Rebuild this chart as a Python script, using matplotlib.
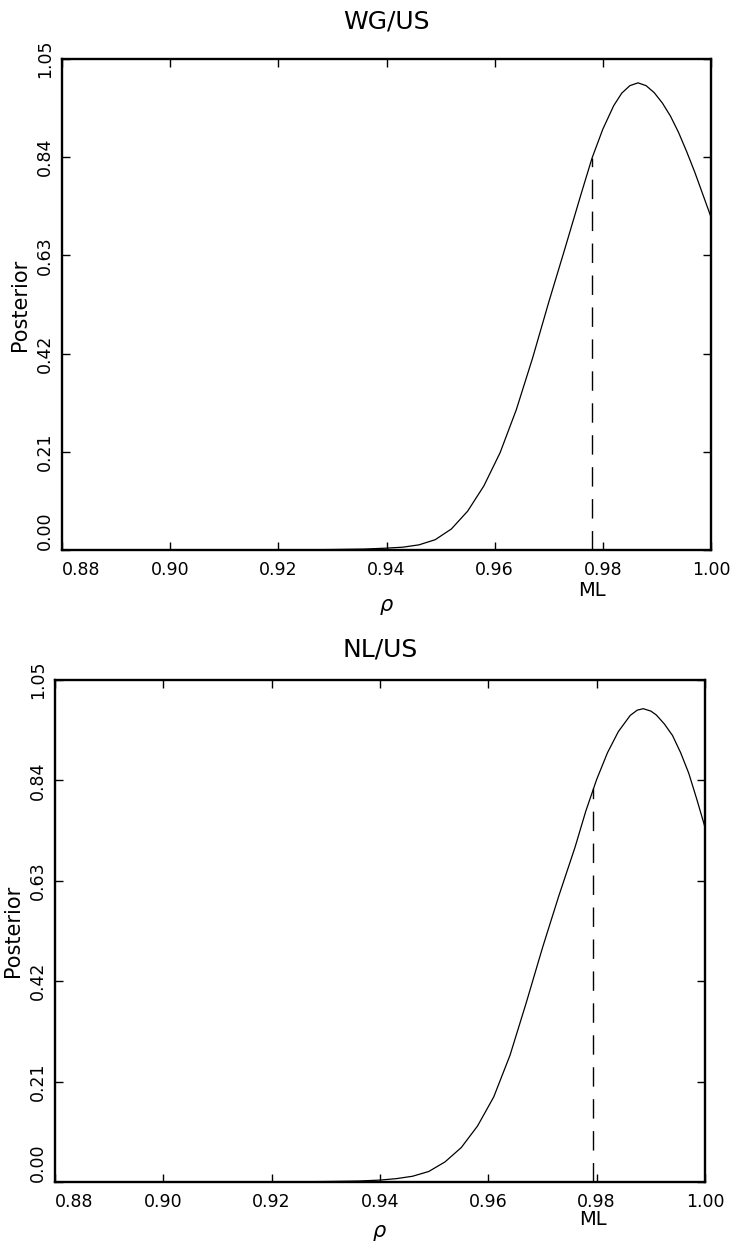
import matplotlib
matplotlib.use("Agg")
import matplotlib.pyplot as plt

# posterior of rho
wg_rho = [0.880, 0.900, 0.920, 0.930, 0.936, 0.940, 0.943, 0.946, 0.949, 0.952,
          0.955, 0.958, 0.961, 0.964, 0.967, 0.970, 0.973, 0.976, 0.978, 0.980,
          0.982, 0.9835, 0.985, 0.9865, 0.988, 0.9895, 0.991, 0.9925, 0.994,
          0.9955, 0.997, 0.9985, 1.000]
wg_post = [0.000, 0.000, 0.000, 0.001, 0.002, 0.004, 0.006, 0.011, 0.022, 0.045,
           0.083, 0.137, 0.208, 0.300, 0.410, 0.530, 0.645, 0.762, 0.838, 0.900,
           0.950, 0.977, 0.993, 0.999, 0.993, 0.978, 0.956, 0.928, 0.893,
           0.852, 0.808, 0.760, 0.712]
wg_ml = 0.978
wg_ml_top = 0.838

nl_rho = [0.880, 0.900, 0.920, 0.930, 0.936, 0.940, 0.943, 0.946, 0.949, 0.952,
          0.955, 0.958, 0.961, 0.964, 0.967, 0.970, 0.973, 0.976, 0.978, 0.980,
          0.982, 0.984, 0.9862, 0.9875, 0.9886, 0.990, 0.991, 0.9925, 0.994,
          0.9955, 0.997, 0.9985, 1.000]
nl_post = [0.000, 0.000, 0.000, 0.001, 0.002, 0.004, 0.007, 0.012, 0.022, 0.042,
           0.072, 0.117, 0.178, 0.265, 0.375, 0.490, 0.598, 0.700, 0.776, 0.842,
           0.898, 0.942, 0.976, 0.987, 0.990, 0.985, 0.977, 0.958, 0.934,
           0.898, 0.855, 0.800, 0.742]
nl_ml = 0.9793
nl_ml_top = 0.825

xticks = [0.88, 0.90, 0.92, 0.94, 0.96, 0.98, 1.00]
yticks = [0.00, 0.21, 0.42, 0.63, 0.84, 1.05]

W, H = 737, 1243
fig = plt.figure(figsize=(W / 100, H / 100), dpi=100)


def panel(rect, title, rho, post, ml, ml_top, title_pad, ml_y, rho_y):
    ax = fig.add_axes(rect)
    ax.plot(rho, post, color="black", lw=0.9)
    ax.plot([ml, ml], [0, ml_top], color="black", lw=1.0, dashes=(14, 9))
    ax.set_xlim(0.88, 1.00)
    ax.set_ylim(0.0, 1.05)
    ax.set_xticks(xticks)
    ax.set_xticklabels(["%.2f" % v for v in xticks])
    ax.set_yticks(yticks)
    ax.set_yticklabels(["%.2f" % v for v in yticks], rotation=90, va="center")
    ax.tick_params(direction="in", length=6, width=1, top=True, right=True,
                   labelsize=12.5, colors="black")
    ax.tick_params(axis="x", pad=8)
    ax.tick_params(axis="y", pad=6)
    ax.get_xticklabels()[0].set_ha("left")
    ax.get_yticklabels()[0].set_va("bottom")
    for s in ax.spines.values():
        s.set_linewidth(1.7)
    ax.set_title(title, fontsize=18, pad=title_pad)
    ax.set_ylabel("Posterior", fontsize=15, labelpad=4)
    ax.text(0.5, rho_y, r"$\rho$", transform=ax.transAxes, ha="center",
            va="center", fontsize=15)
    ax.text(ml, ml_y, "ML", transform=ax.get_xaxis_transform(), ha="center",
            va="center", fontsize=14)
    return ax


panel([62 / W, 1 - 550 / H, 649 / W, 491 / H], "WG/US",
      wg_rho, wg_post, wg_ml, wg_ml_top, 22, -0.082, -0.116)
panel([55 / W, 1 - 1182 / H, 650 / W, 502 / H], "NL/US",
      nl_rho, nl_post, nl_ml, nl_ml_top, 17, -0.074, -0.102)

fig.savefig("out.png", dpi=100)
